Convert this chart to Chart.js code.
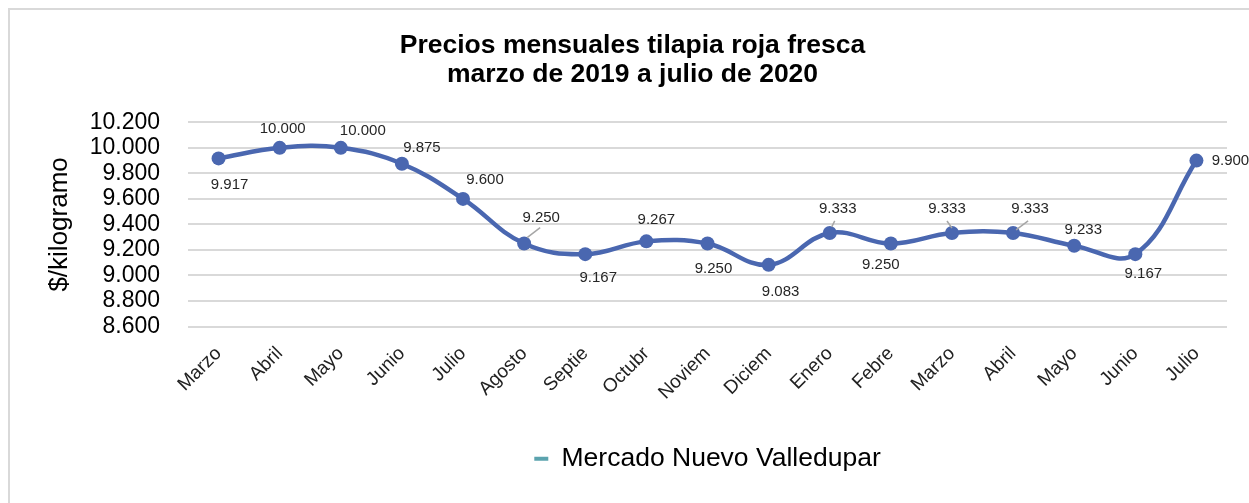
<!DOCTYPE html>
<html>
<head>
<meta charset="utf-8">
<script src="https://cdn.jsdelivr.net/npm/chart.js@4"></script>
<style>
  html, body { margin: 0; padding: 0; background: #fff; overflow: hidden; }
  #wrap { position: relative; width: 1249px; height: 503px; }
  #frame { position: absolute; left: 8px; top: 8px; width: 1260px; height: 520px;
           border-top: 2px solid #d9d9d9; border-left: 2px solid #d9d9d9; box-sizing: border-box; }
  canvas { position: absolute; left: 0; top: 0; }
</style>
</head>
<body>
<div id="wrap">
  <div id="frame"></div>
  <canvas id="myChart" width="1249" height="503"></canvas>
</div>
<script>
// months from marzo 2019 to julio 2020
const months = ['Marzo', 'Abril', 'Mayo', 'Junio', 'Julio', 'Agosto', 'Septie', 'Octubr', 'Noviem',
  'Diciem', 'Enero', 'Febre', 'Marzo', 'Abril', 'Mayo', 'Junio', 'Julio']
const prices = [9.917, 10.0, 10.0, 9.875, 9.6, 9.25, 9.167, 9.267, 9.25,
  9.083, 9.333, 9.25, 9.333, 9.333, 9.233, 9.167, 9.9]
const yTicks = [8.6, 8.8, 9.0, 9.2, 9.4, 9.6, 9.8, 10.0, 10.2]

// where each value label sits, relative to its point
const labelOffsets = [[11, 26], [3, -19], [22, -17], [20, -16], [22, -19], [17, -26], [13, 24], [10, -22], [6, 25],
  [12, 27], [8, -24], [-10, 21], [-5, -24], [17, -24], [9, -16], [8, 20], [34, 0]]
// small gray leader lines (x1, y1, x2, y2 relative to point)
const leaders = [null, null, null, null, null, [3, -6, 16, -16], null, null, null,
  null, [2, -6, 5, -12], null, [0, -5, -5, -12], [3, -3, 15, -12], null, null, null]

const lineBlue = '#4A67B0'
const legendTeal = '#5BA3AE'
const fontFam = '"Liberation Sans", Arial, sans-serif'

const valueLabels = {
  id: 'valueLabels',
  afterDatasetsDraw(chart) {
    const ctx = chart.ctx
    const meta = chart.getDatasetMeta(0)
    ctx.save()
    meta.data.forEach((pt, i) => {
      const l = leaders[i]
      if (l) {
        ctx.strokeStyle = '#a6a6a6'
        ctx.lineWidth = 1.5
        ctx.beginPath()
        ctx.moveTo(pt.x + l[0], pt.y + l[1])
        ctx.lineTo(pt.x + l[2], pt.y + l[3])
        ctx.stroke()
      }
      ctx.fillStyle = '#262626'
      ctx.font = '15px ' + fontFam
      ctx.textAlign = 'center'
      ctx.textBaseline = 'middle'
      ctx.fillText(prices[i].toFixed(3), pt.x + labelOffsets[i][0], pt.y + labelOffsets[i][1])
    })
    ctx.restore()
  }
}

const ctx = document.getElementById('myChart').getContext('2d')
const chart = new Chart(ctx, {
  type: 'line',
  data: {
    labels: months,
    datasets: [
      {
        label: 'Mercado Nuevo Valledupar',
        data: prices,
        borderColor: lineBlue,
        backgroundColor: lineBlue,
        borderWidth: 4.5,
        pointRadius: 7,
        pointBackgroundColor: lineBlue,
        pointBorderWidth: 0,
        tension: 0.4,
      },
    ],
  },
  options: {
    responsive: false,
    animation: false,
    layout: { padding: { left: 38, right: 22, top: 0, bottom: 21 } },
    plugins: {
      title: {
        display: true,
        text: ['Precios mensuales tilapia roja fresca', 'marzo de 2019 a julio de 2020'],
        color: '#000',
        font: { family: fontFam, size: 26.5, weight: 'bold', lineHeight: 1.1 },
        padding: { top: 31, bottom: 33 },
      },
      legend: {
        position: 'bottom',
        fullSize: false,
        labels: {
          color: '#111',
          font: { family: fontFam, size: 26.5 },
          boxWidth: 14,
          boxHeight: 4,
          padding: 10,
          generateLabels: (c) => [{
            text: c.data.datasets[0].label,
            fillStyle: legendTeal,
            strokeStyle: legendTeal,
            lineWidth: 0,
            datasetIndex: 0,
          }],
        },
      },
      tooltip: { enabled: false },
    },
    scales: {
      y: {
        min: 8.6,
        max: 10.2,
        afterBuildTicks: (axis) => { axis.ticks = yTicks.map((v) => ({ value: v })) },
        afterFit: (axis) => { axis.width = 150 },
        border: { display: false },
        grid: { color: '#d9d9d9', lineWidth: 2, drawTicks: false },
        ticks: {
          color: '#000',
          padding: 28,
          autoSkip: false,
          font: { family: fontFam, size: 23 },
          callback: (v) => Number(v).toFixed(3),
        },
        title: {
          display: true,
          text: '$/kilogramo',
          color: '#000',
          font: { family: fontFam, size: 26 },
          padding: { top: 6, bottom: 0 },
        },
      },
      x: {
        offset: true,
        afterFit: (axis) => { axis.height = 109 },
        border: { display: false },
        grid: { display: false, drawTicks: false },
        ticks: {
          color: '#222',
          padding: 16,
          maxRotation: 45,
          minRotation: 45,
          autoSkip: false,
          font: { family: fontFam, size: 19 },
        },
      },
    },
  },
  plugins: [valueLabels],
})
</script>
</body>
</html>
